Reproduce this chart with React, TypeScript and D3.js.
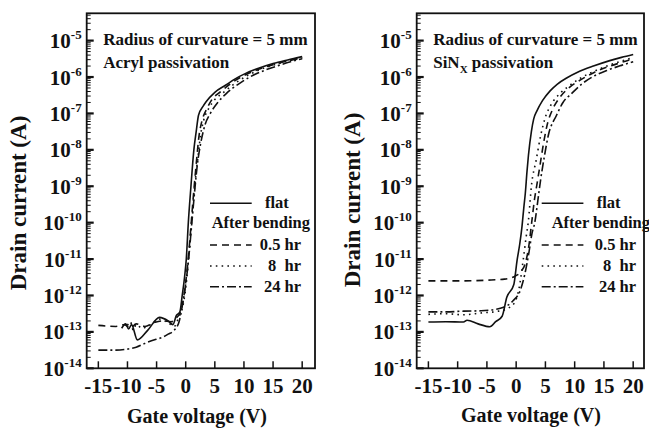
import React from "react";
import * as d3 from "d3";

const FONT = "'Liberation Serif','Times New Roman',Times,serif";

const X_TICKS = [-15, -10, -5, 0, 5, 10, 15, 20];
const Y_DECADES = [-14, -13, -12, -11, -10, -9, -8, -7, -6, -5];
const Y_MIN_EXP = -14;
const Y_MAX_EXP = -4.25;

const LEGEND_LABELS = ["flat", "0.5 hr", "8  hr", "24 hr"];
const LEGEND_SUBTITLE = "After bending";
const X_TITLE = "Gate voltage (V)";
const Y_TITLE = "Drain current (A)";
const ANNOT_LINE1 = "Radius of curvature = 5 mm";

// [gate voltage (V), log10 drain current (A)]
const acrylFlat: [number, number][] = [
  [-11, -12.9], [-10.3, -12.78], [-9.8, -12.92], [-9.3, -12.8], [-8.3, -13.22],
  [-6.5, -12.95], [-4.5, -12.6], [-3.0, -12.7], [-2.2, -12.8], [-1.6, -12.55],
  [-1.0, -12.45], [-0.6, -12.0], [-0.2, -11.5], [0.1, -11.0], [0.45, -10.0],
  [0.9, -9.0], [1.4, -8.0], [1.8, -7.5], [2.2, -7.05], [3.0, -6.8], [3.5, -6.68],
  [5.0, -6.42], [6.9, -6.22], [8.5, -6.05], [10.3, -5.9], [12.5, -5.76],
  [15, -5.63], [17.5, -5.53], [20, -5.44],
];
const acrylHalfHr: [number, number][] = [
  [-15, -12.82], [-12, -12.85], [-10.5, -12.8], [-9.5, -12.9], [-8.5, -12.78],
  [-7, -12.85], [-5.5, -12.75], [-4, -12.7], [-2.5, -12.72], [-1.5, -12.6],
  [-0.8, -12.4], [-0.3, -12.0], [0.3, -11.2], [0.8, -10.3], [1.3, -9.3],
  [1.8, -8.4], [2.3, -7.6], [2.8, -7.2], [3.6, -6.88], [4.5, -6.62], [6, -6.4],
  [8, -6.15], [10, -5.96], [12.5, -5.79], [15, -5.66], [17.5, -5.56], [20, -5.47],
];
const acryl8Hr: [number, number][] = [
  [-10, -12.82], [-9.5, -12.72], [-9, -12.95], [-8.5, -12.8], [-7.5, -12.9],
  [-6, -12.8], [-4.5, -12.65], [-3, -12.75], [-2, -12.85], [-1.2, -12.6],
  [-0.5, -12.3], [0, -11.8], [0.6, -10.8], [1.1, -9.8], [1.6, -8.9],
  [2.1, -8.2], [2.6, -7.55], [3.1, -7.18], [4.0, -6.85], [5, -6.62],
  [6.5, -6.42], [8.5, -6.17], [10.5, -5.97], [13, -5.78], [15.5, -5.65],
  [18, -5.54], [20, -5.47],
];
const acryl24Hr: [number, number][] = [
  [-15, -13.5], [-12, -13.5], [-10.3, -13.48], [-8.5, -13.42], [-6.8, -13.3],
  [-5, -13.2], [-4, -13.15], [-3, -13.06], [-2, -12.96], [-1.1, -12.7],
  [-0.6, -12.3], [-0.1, -11.8], [0.5, -11.0], [1.0, -10.1], [1.5, -9.2],
  [2.0, -8.4], [2.6, -7.8], [3.3, -7.32], [4.3, -6.98], [5.5, -6.7], [7, -6.45],
  [9, -6.2], [11, -6.0], [13.5, -5.82], [16, -5.68], [18, -5.58], [20, -5.5],
];

const sinxFlat: [number, number][] = [
  [-15, -12.73], [-12, -12.72], [-9, -12.73], [-8.4, -12.68], [-6.5, -12.78],
  [-4.5, -12.86], [-3.5, -12.72], [-2.4, -12.57], [-1.6, -12.05], [-0.4, -11.7],
  [0.15, -11.04], [0.6, -10.6], [1.0, -10.1], [1.3, -9.6], [1.56, -9.2],
  [1.85, -8.6], [2.1, -8.15], [2.6, -7.5], [3.0, -7.15], [3.55, -6.93],
  [4.5, -6.65], [5.8, -6.38], [7, -6.2], [8.7, -6.02], [10.5, -5.87],
  [13.2, -5.7], [16, -5.55], [18, -5.46], [20, -5.38],
];
const sinxHalfHr: [number, number][] = [
  [-15, -11.6], [-10, -11.6], [-5, -11.58], [-2, -11.55], [-0.2, -11.47],
  [0.8, -11.35], [1.6, -11.1], [2.2, -10.6], [2.65, -10.0], [3.1, -9.4],
  [3.6, -8.9], [4.1, -8.4], [4.7, -7.8], [5.4, -7.25], [6.2, -6.9], [7.5, -6.55],
  [9, -6.3], [11, -6.08], [13.5, -5.86], [16, -5.7], [18, -5.6], [20, -5.5],
];
const sinx8Hr: [number, number][] = [
  [-15, -12.52], [-12, -12.5], [-9, -12.53], [-6, -12.48], [-3, -12.43],
  [-1.5, -12.36], [-0.3, -12.2], [0.5, -11.8], [1.2, -11.03], [1.7, -10.4],
  [2.07, -9.98], [2.65, -8.93], [3.4, -8.3], [4.2, -7.6], [5.0, -7.1],
  [6, -6.75], [7.5, -6.45], [9, -6.25], [11, -6.03], [13.5, -5.83],
  [16, -5.67], [18, -5.56], [20, -5.47],
];
const sinx24Hr: [number, number][] = [
  [-15, -12.45], [-12, -12.45], [-9, -12.43], [-6, -12.42], [-2.7, -12.35],
  [-0.5, -12.14], [0.7, -11.86], [1.5, -11.4], [2.2, -10.8], [2.7, -10.3],
  [3.2, -9.98], [3.7, -9.4], [4.2, -8.8], [4.8, -8.2], [5.5, -7.6],
  [6.9, -7.05], [8, -6.7], [9.5, -6.45], [11, -6.22], [13, -6.0],
  [15.5, -5.82], [18, -5.68], [20, -5.58],
];

const DASHES = [undefined, "7,5", "1.6,4.2", "9,3,2,3"];

type PanelProps = {
  x0: number; x1: number; y0: number; y1: number;
  xDomain: [number, number];
  series: [number, number][][];
  line2: React.ReactNode;
  legendX: number; legendSubX: number; legendTextEnd: number; flatX: number;
  yTitleX: number; yTitleY: number; xTitleX: number; xTitleY: number;
};

function Panel(p: PanelProps) {
  const x = d3.scaleLinear().domain(p.xDomain).range([p.x0, p.x1]);
  const y = d3.scaleLog().domain([Math.pow(10, Y_MIN_EXP), Math.pow(10, Y_MAX_EXP)]).range([p.y1, p.y0]);
  const line = d3.line<[number, number]>()
    .x((d) => x(d[0]))
    .y((d) => y(Math.pow(10, d[1])))
    .curve(d3.curveMonotoneX);

  const minor: number[] = [];
  Y_DECADES.forEach((e) => {
    for (let k = 2; k <= 9; k++) {
      const v = k * Math.pow(10, e);
      if (v < Math.pow(10, Y_MAX_EXP)) minor.push(v);
    }
  });

  const legendRows = [203.3, 245, 266, 286.7];
  const ink = "#111";

  return (
    <g style={{ fontFamily: FONT }} fontWeight="bold" fill={ink}>
      {p.series.map((s, i) => (
        <path key={i} d={line(s) || ""} fill="none" stroke={ink} strokeWidth={1.6}
          strokeDasharray={DASHES[i]} />
      ))}
      <rect x={p.x0} y={p.y0} width={p.x1 - p.x0} height={p.y1 - p.y0} fill="none" stroke={ink} strokeWidth={1.8} />
      {X_TICKS.map((t) => (
        <g key={t}>
          <line x1={x(t)} x2={x(t)} y1={p.y1} y2={p.y1 - 7} stroke={ink} strokeWidth={1.5} />
          <text x={x(t)} y={393} textAnchor="middle" fontSize={21}>{String(t)}</text>
        </g>
      ))}
      {minor.map((v, i) => (
        <line key={"m" + i} x1={p.x0} x2={p.x0 + 4} y1={y(v)} y2={y(v)} stroke={ink} strokeWidth={1} />
      ))}
      {Y_DECADES.map((e) => (
        <g key={e}>
          <line x1={p.x0} x2={p.x0 + 7} y1={y(Math.pow(10, e))} y2={y(Math.pow(10, e))} stroke={ink} strokeWidth={2.2} />
          <text x={p.x0 - 5} y={y(Math.pow(10, e)) + 7.5} textAnchor="end" fontSize={21}>
            10<tspan dy={-9} fontSize={13}>{String(e)}</tspan>
          </text>
        </g>
      ))}
      <text x={p.x0 + 16.5} y={45} fontSize={17}>{ANNOT_LINE1}</text>
      <text x={p.x0 + 16.5} y={68} fontSize={17}>{p.line2}</text>
      {legendRows.map((ly, i) => (
        <line key={"l" + i} x1={p.legendX} x2={p.legendX + 41.7} y1={ly} y2={ly} stroke={ink}
          strokeWidth={1.6} strokeDasharray={DASHES[i]} />
      ))}
      <text x={p.flatX} y={208} fontSize={16.5}>{LEGEND_LABELS[0]}</text>
      <text x={p.legendSubX} y={228} fontSize={16.5}>{LEGEND_SUBTITLE}</text>
      {LEGEND_LABELS.slice(1).map((lab, i) => (
        <text key={lab} x={p.legendTextEnd} y={legendRows[i + 1] + 5} fontSize={16.5} textAnchor="end"
          style={{ whiteSpace: "pre" }}>{lab}</text>
      ))}
      <text x={p.xTitleX} y={p.xTitleY} textAnchor="middle" fontSize={20}>{X_TITLE}</text>
      <text transform={`translate(${p.yTitleX},${p.yTitleY}) rotate(-90)`} textAnchor="middle" fontSize={23}>{Y_TITLE}</text>
    </g>
  );
}

export default function App() {
  return (
    <svg width={649} height={431} viewBox="0 0 649 431"
      style={{ position: "absolute", left: 0, top: 0, background: "#fff" }}>
      <rect width={649} height={431} fill="#fff" />
      <Panel x0={86.7} x1={315} y0={13.3} y1={368.3} xDomain={[-17, 22.2]}
        series={[acrylFlat, acrylHalfHr, acryl8Hr, acryl24Hr]}
        line2={"Acryl passivation"}
        legendX={210} legendSubX={211.7} legendTextEnd={301} flatX={265}
        yTitleX={26} yTitleY={203} xTitleX={197} xTitleY={423} />
      <Panel x0={416.7} x1={644} y0={13.3} y1={368.3} xDomain={[-17, 21.85]}
        series={[sinxFlat, sinxHalfHr, sinx8Hr, sinx24Hr]}
        line2={<>SiN<tspan dy={5} fontSize={11}>X</tspan><tspan dy={-5}> passivation</tspan></>}
        legendX={541.7} legendSubX={551.7} legendTextEnd={636} flatX={596.7}
        yTitleX={360} yTitleY={200} xTitleX={531} xTitleY={422} />
    </svg>
  );
}
